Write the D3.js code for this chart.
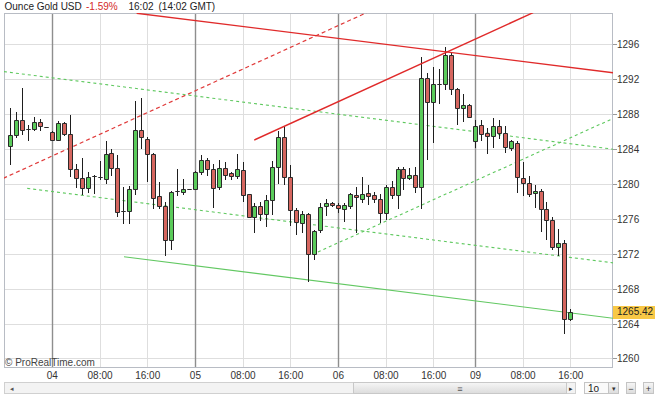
<!DOCTYPE html>
<html><head><meta charset="utf-8">
<script src="https://cdn.jsdelivr.net/npm/d3@7"></script>
<style>html,body{margin:0;padding:0;background:#fff;overflow:hidden}svg{display:block;font-family:"Liberation Sans",Arial,sans-serif}</style>
</head><body><svg id="c" width="660" height="396"></svg>
<script>
// ---- data (hourly candles, index 0 = 03 17:00) ----
const opens  = [1284.4,1285.6,1287.3,1286.3,1286.3,1287.1,1286.5,1286.0,1285.0,1287.0,
                1285.7,1281.7,1280.7,1279.6,1280.9,1280.85,1280.6,1283.6,1281.9,1276.9,
                1276.9,1279.4,1286.2,1285.2,1283.5,1278.6,1277.5,1273.6,1279.2,1279.05,
                1279.5,1279.4,1281.4,1282.8,1281.7,1279.7,1281.9,1281.25,1280.9,1281.6,
                1278.9,1276.3,1277.5,1276.6,1278.2,1282.0,1285.4,1280.8,1277.1,1275.6,
                1276.6,1272.0,1274.7,1277.5,1277.9,1277.6,1277.2,1277.5,1278.8,1278.3,
                1279.0,1278.8,1278.3,1276.7,1279.7,1278.8,1281.7,1280.7,1281.0,1279.7,
                1292.1,1289.4,1291.5,1291.5,1294.8,1290.9,1288.7,1289.1,1284.9,1286.8,
                1285.8,1285.5,1286.6,1285.8,1284.1,1284.7,1280.7,1280.1,1279.0,1279.25,
                1277.2,1275.9,1272.8,1273.3,1264.6];
const highs  = [1288.7,1288.2,1291.0,1286.8,1287.7,1287.5,1286.5,1286.1,1287.2,1287.1,
                1287.9,1282.3,1283.0,1281.4,1281.0,1282.6,1284.9,1284.0,1283.3,1279.7,
                1279.8,1289.5,1289.9,1285.4,1283.6,1280.3,1278.0,1279.2,1281.7,1280.6,
                1279.5,1281.5,1283.3,1283.0,1282.3,1282.8,1282.5,1281.4,1283.5,1282.5,
                1278.9,1277.8,1278.0,1278.8,1282.6,1286.1,1286.7,1282.2,1277.3,1276.9,
                1276.7,1274.7,1277.8,1278.3,1278.0,1277.8,1277.8,1279.0,1279.7,1280.8,
                1279.9,1279.1,1278.9,1279.9,1280.4,1282.0,1282.0,1281.9,1282.0,1294.6,
                1292.7,1293.4,1293.2,1295.7,1295.0,1291.0,1290.3,1289.2,1287.3,1287.3,
                1286.4,1287.6,1287.3,1286.7,1285.0,1284.9,1282.5,1280.9,1279.9,1279.4,
                1278.0,1276.3,1274.9,1273.6,1265.7];
const lows   = [1282.2,1285.3,1285.6,1284.9,1286.1,1286.1,1286.5,1284.9,1284.9,1285.5,
                1280.8,1279.6,1278.8,1279.0,1278.9,1280.5,1280.0,1280.9,1276.3,1275.4,
                1275.4,1278.8,1284.0,1280.2,1277.2,1277.2,1271.8,1272.5,1278.7,1278.8,
                1279.5,1279.3,1281.1,1280.9,1277.3,1279.3,1280.5,1280.5,1280.6,1278.0,
                1276.2,1274.4,1275.8,1275.1,1276.5,1280.0,1279.9,1275.2,1274.2,1274.4,
                1268.8,1271.3,1274.4,1276.4,1277.4,1276.7,1275.7,1277.2,1274.4,1277.8,
                1277.6,1277.8,1275.5,1275.9,1278.3,1277.2,1279.3,1280.5,1279.0,1277.2,
                1282.8,1284.7,1289.2,1290.8,1290.2,1286.8,1287.1,1287.7,1284.1,1284.9,
                1283.5,1284.1,1285.2,1283.6,1283.8,1279.0,1278.6,1278.5,1277.3,1274.5,
                1273.6,1272.5,1271.8,1262.9,1264.3];
const closes = [1285.6,1287.3,1286.2,1286.3,1287.1,1286.6,1286.5,1285.0,1287.0,1285.7,
                1281.7,1280.7,1279.6,1280.8,1280.9,1280.85,1283.5,1281.9,1276.8,1276.9,
                1279.4,1286.2,1285.4,1283.5,1278.4,1277.5,1273.6,1279.1,1279.2,1279.5,
                1279.5,1281.4,1282.8,1281.7,1279.6,1281.8,1281.1,1280.9,1281.7,1278.8,
                1276.3,1277.5,1276.6,1278.2,1282.0,1285.4,1280.8,1277.1,1275.7,1276.6,
                1272.0,1274.6,1277.4,1277.8,1277.6,1277.3,1277.6,1278.9,1278.5,1278.9,
                1278.6,1278.3,1276.7,1279.7,1278.8,1281.7,1280.7,1281.0,1279.7,1292.2,
                1289.4,1291.5,1291.5,1294.8,1290.9,1288.7,1289.1,1287.7,1286.7,1285.7,
                1285.5,1286.7,1285.8,1284.2,1284.9,1280.8,1280.1,1278.9,1279.25,1277.2,
                1275.9,1272.8,1273.3,1264.6,1265.42];

const xTickIndex  = [7,15,23,31,39,47,55,63,71,78,86,94];
const xTickLabels = ["04","08:00","16:00","05","08:00","16:00","06","08:00","16:00","09","08:00","16:00"];
const dayStartIndex = [7,31,55,78];
const yTicks = [1260,1264,1268,1272,1276,1280,1284,1288,1292,1296];
const xDomain = [-1.12, 101.08];
const yDomain = [1258.97, 1299.58];
const lastPrice = 1265.42;
const titleParts = ["Ounce Gold USD","-1.59%","16:02","(14:02 GMT)"];

// trend lines as [index1, price1, index2, price2]
const redSolidLines    = [[21.14,1299.55,101.1,1292.75],[40.87,1285.05,87.68,1299.62]];
const redDashedLines   = [[-1.24,1280.67,59.73,1299.62]];
const greenDashedLines = [[-1.12,1292.87,101.1,1284.0],[2.78,1279.52,101.1,1271.0],[51.56,1272.24,101.1,1287.52]];
const greenSolidLines  = [[19.01,1271.7,101.1,1264.66]];

// ---- layout ----
const L=4, R=613, T=13, B=368;
const svg = d3.select("#c");
const x = d3.scaleLinear().domain(xDomain).range([L,R]);
const y = d3.scaleLinear().domain(yDomain).range([B,T]);
const px = v => Math.floor(v)+0.5;

svg.append("defs").append("clipPath").attr("id","plot")
  .append("rect").attr("x",L).attr("y",T).attr("width",R-L).attr("height",B-T);

// horizontal grid
svg.append("g").selectAll("line").data(yTicks).join("line")
  .attr("x1",L).attr("x2",R).attr("y1",d=>px(y(d))).attr("y2",d=>px(y(d)))
  .attr("stroke","#dedede").attr("stroke-width",1);
// vertical grid
svg.append("g").selectAll("line").data(xTickIndex).join("line")
  .attr("x1",d=>px(x(d))).attr("x2",d=>px(x(d))).attr("y1",T).attr("y2",B)
  .attr("stroke",d=>dayStartIndex.includes(d)?"#8e8e8e":"#dedede")
  .attr("stroke-width",d=>dayStartIndex.includes(d)?1.4:1);

// frame
svg.append("rect").attr("x",L+0.5).attr("y",T+0.5).attr("width",R-L-1).attr("height",B-T-1)
  .attr("fill","none").attr("stroke","#b8bcc4");

// right ticks and labels
svg.append("g").selectAll("line").data(yTicks).join("line")
  .attr("x1",R).attr("x2",R+4).attr("y1",d=>px(y(d))).attr("y2",d=>px(y(d)))
  .attr("stroke","#999");
svg.append("g").selectAll("text").data(yTicks).join("text")
  .attr("x",R+4).attr("y",d=>y(d)).attr("dy","0.35em")
  .attr("font-size",10).attr("fill","#333").text(d=>d);

// x labels
svg.append("g").selectAll("text").data(xTickIndex).join("text")
  .attr("x",d=>x(d)).attr("y",379).attr("text-anchor","middle")
  .attr("font-size",10).attr("fill","#333").text((d,i)=>xTickLabels[i]);

// trend lines
const plotG = svg.append("g").attr("clip-path","url(#plot)");
function drawLines(arr, color, w, dash){
  plotG.append("g").selectAll("line").data(arr).join("line")
    .attr("x1",d=>x(d[0])).attr("y1",d=>y(d[1])).attr("x2",d=>x(d[2])).attr("y2",d=>y(d[3]))
    .attr("stroke",color).attr("stroke-width",w).attr("stroke-dasharray",dash||null);
}
drawLines(greenDashedLines,"#5ec85e",1.1,"3,3");
drawLines(greenSolidLines,"#62c862",1.1,null);
drawLines(redDashedLines,"#e03a3a",1.2,"4,3");

// candles
const candles = opens.map((o,i)=>({i,o,h:highs[i],l:lows[i],c:closes[i]}));
const cg = plotG.append("g");
cg.selectAll("line").data(candles).join("line")
  .attr("x1",d=>px(x(d.i))).attr("x2",d=>px(x(d.i)))
  .attr("y1",d=>Math.round(y(d.h))).attr("y2",d=>Math.round(y(d.l)))
  .attr("stroke","#1e1e1e").attr("stroke-width",1);
cg.selectAll("path").data(candles).join("path")
  .attr("d",d=>{
    const cx=px(x(d.i)), x0=cx-2, x1=cx+2;
    const y0=Math.round(y(Math.max(d.o,d.c)))+0.5, y1=Math.round(y(Math.min(d.o,d.c)))+0.5;
    return `M${x0},${y0}H${x1}V${y1}H${x0}Z`;
  })
  .attr("fill",d=>d.c>d.o?"#5acb5a":(d.c<d.o?"#d6665f":"#333"))
  .attr("stroke","#2a2a2a").attr("stroke-width",1);

drawLines(redSolidLines,"#e02a2a",1.4,null);

// last price box
const ly = y(lastPrice);
svg.append("rect").attr("x",R).attr("y",Math.round(ly)-6).attr("width",42).attr("height",13)
  .attr("fill","#f8c846");
svg.append("text").attr("x",R+4).attr("y",ly).attr("dy","0.38em").attr("font-size",10)
  .attr("fill","#222").text(lastPrice.toFixed(2));

// title
const title = svg.append("text").attr("y",10).attr("font-size",10).attr("fill","#222");
title.append("tspan").attr("x",4.5).text(titleParts[0]);
title.append("tspan").attr("x",86).attr("fill","#d42a2a").text(titleParts[1]);
title.append("tspan").attr("x",128.5).text(titleParts[2]);
title.append("tspan").attr("x",158.5).text(titleParts[3]);

// watermark
svg.append("text").attr("x",5).attr("y",365.5).attr("font-size",10).attr("fill","#444")
  .text("\u00a9 ProRealTime.com");

// scrollbar & controls
const sb = svg.append("g");
const grad = svg.select("defs").append("linearGradient").attr("id","thumb").attr("x1",0).attr("x2",0).attr("y1",0).attr("y2",1);
grad.append("stop").attr("offset","0").attr("stop-color","#f6f6f6");
grad.append("stop").attr("offset","1").attr("stop-color","#dcdcdc");
sb.append("rect").attr("x",4.5).attr("y",382.5).attr("width",571).attr("height",11)
  .attr("fill","#f3f3f3").attr("stroke","#d0d0d0");
sb.append("rect").attr("x",353.5).attr("y",382.5).attr("width",213).attr("height",11)
  .attr("fill","url(#thumb)").attr("stroke","#c8c8c8");
sb.append("text").attr("x",10).attr("y",391).attr("font-size",7).attr("fill","#555").text("\u25C2");
sb.append("text").attr("x",569).attr("y",391).attr("font-size",7).attr("fill","#333").text("\u25B8");
sb.append("text").attr("x",460).attr("y",391.5).attr("font-size",9).attr("text-anchor","middle").attr("fill","#555").text("\u2261");
// timeframe dropdown
sb.append("rect").attr("x",584.5).attr("y",382.5).attr("width",34).attr("height",11)
  .attr("fill","#fafafa").attr("stroke","#c4c4c4");
sb.append("text").attr("x",588).attr("y",392).attr("font-size",10).attr("fill","#222").text("1o");
sb.append("rect").attr("x",608.5).attr("y",382.5).attr("width",10).attr("height",11)
  .attr("fill","url(#thumb)").attr("stroke","#c4c4c4");
sb.append("text").attr("x",613.5).attr("y",391).attr("font-size",7).attr("text-anchor","middle").attr("fill","#333").text("\u25BE");
sb.append("rect").attr("x",626.5).attr("y",382.5).attr("width",9).attr("height",11)
  .attr("fill","url(#thumb)").attr("stroke","#c4c4c4");
sb.append("text").attr("x",631).attr("y",391.5).attr("font-size",9).attr("text-anchor","middle").attr("fill","#333").text("\u2212");
sb.append("rect").attr("x",643.5).attr("y",382.5).attr("width",10).attr("height",11)
  .attr("fill","url(#thumb)").attr("stroke","#c4c4c4");
sb.append("text").attr("x",648.5).attr("y",391.5).attr("font-size",9).attr("text-anchor","middle").attr("fill","#333").text("+");
</script></body></html>
